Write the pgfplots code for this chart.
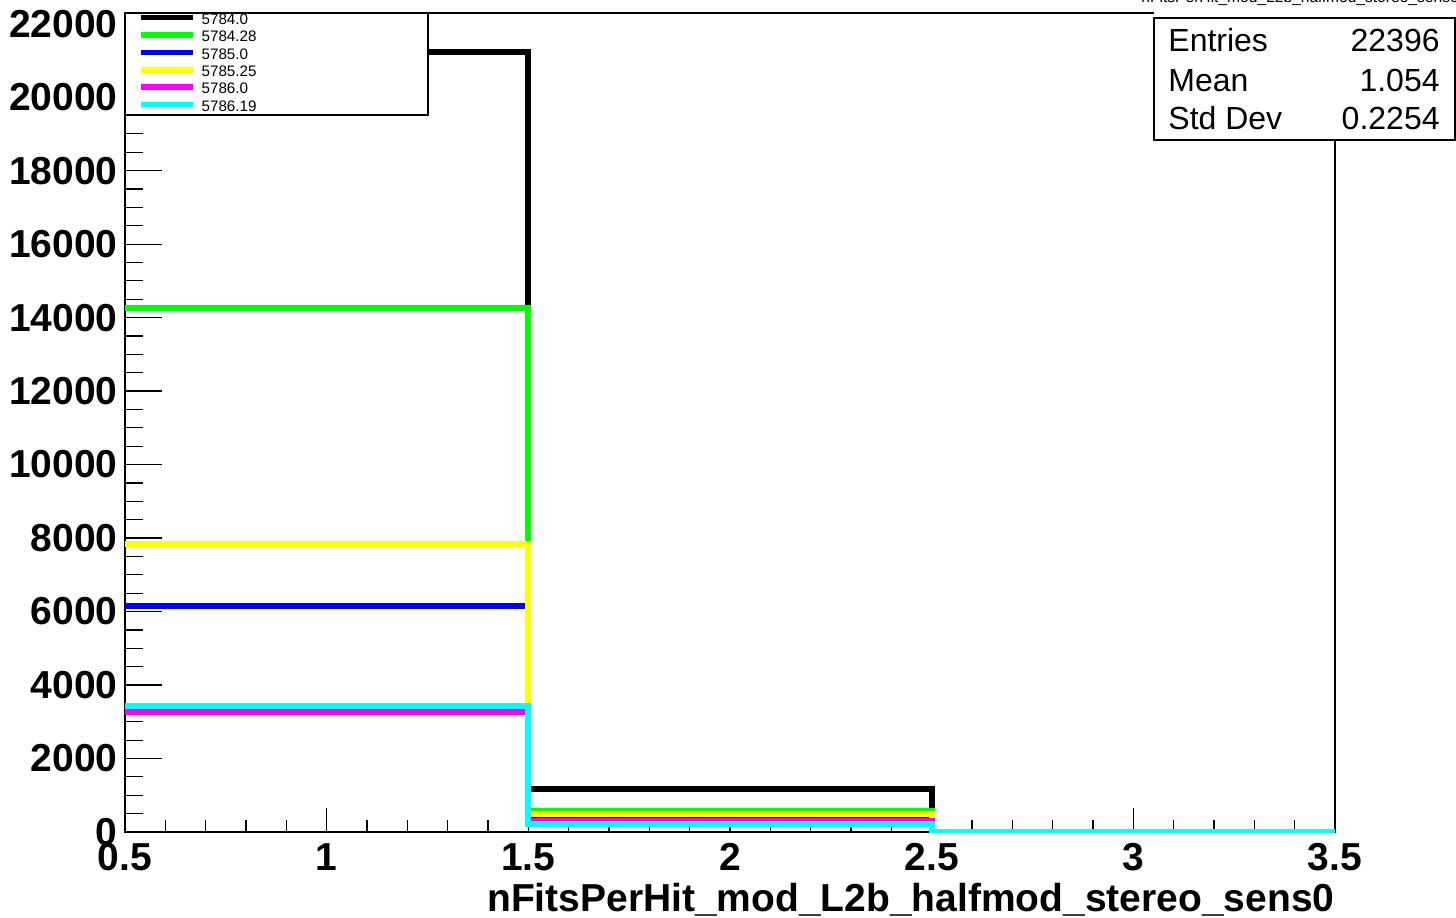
\documentclass[border=0pt]{standalone}
\usepackage{pgfplots}
\usepackage{pgfplotstable}
\pgfplotsset{compat=1.18}
\usepackage{fontspec}
\setmainfont{Liberation Sans}

\definecolor{rgreen}{RGB}{0,255,0}
\definecolor{rblue}{RGB}{0,0,255}
\definecolor{ryellow}{RGB}{255,255,0}
\definecolor{rmagenta}{RGB}{255,0,255}
\definecolor{rcyan}{RGB}{0,255,255}

\pgfplotstableread{
x     black  green  blue  yellow  magenta  cyan
0.5   21230  14270  6150  7840    3270     3430
1.5   1170   570    350   490     300      220
2.5   10     5      5     5       5        5
3.5   10     5      5     5       5        5
}\hist

\begin{document}
\begin{tikzpicture}
\useasboundingbox (0pt,0pt) rectangle (728pt,458.5pt);
\clip (0pt,0pt) rectangle (728pt,458.5pt);
% axis carrying the y ticks
\begin{axis}[
  at={(62.5pt,42.5pt)}, anchor=south west,
  scale only axis, width=605pt, height=409.5pt,
  xmin=0.5, xmax=3.5, ymin=0, ymax=22290,
  axis line style={line width=0.6pt},
  tick align=inside, ytick pos=left,
  xtick=\empty,
  ytick={0,2000,...,22000}, minor y tick num=3,
  major tick length=18.5pt, minor tick length=9pt,
  tick style={line width=0.6pt, black},
  scaled y ticks=false,
  /pgf/number format/assume math mode=true,
  /pgf/number format/1000 sep={},
  yticklabel style={anchor=east, inner sep=0pt, xshift=-3.5pt,
    font=\fontsize{19.5}{20}\selectfont\bfseries},
]
\end{axis}
% main axis with the histograms and x ticks
\begin{axis}[
  at={(62.5pt,42.5pt)}, anchor=south west,
  scale only axis, width=605pt, height=409.5pt,
  xmin=0.5, xmax=3.5, ymin=0, ymax=22290,
  axis line style={line width=0.6pt},
  tick align=inside, xtick pos=bottom,
  ytick=\empty,
  xtick={0.5,1,...,3.5}, minor x tick num=4,
  major tick length=12pt, minor tick length=6pt,
  tick style={line width=0.6pt, black},
  /pgf/number format/assume math mode=true,
  xticklabel style={anchor=base, inner sep=0pt, yshift=-19pt,
    font=\fontsize{19.5}{20}\selectfont\bfseries},
  xlabel={nFitsPerHit\_mod\_L2b\_halfmod\_stereo\_sens0},
  xlabel style={at={(rel axis cs:1,0)}, anchor=base east, inner sep=0pt,
    yshift=-39.5pt, font=\fontsize{19.5}{20}\selectfont\bfseries},
  legend style={at={(rel axis cs:0,1)}, anchor=north west, draw=none, fill=none,
    inner sep=0pt, outer sep=0pt, xshift=6.5pt, yshift=-0.2pt,
    font=\fontsize{7.6}{8.7}\selectfont, row sep=0pt, column sep=3pt,
    nodes={inner sep=0pt, text height=5.5pt, text depth=3.2pt}},
  legend cell align=left,
  legend image code/.code={\draw[#1, line width=2.8pt] (0pt,2.2pt) -- (26pt,2.2pt);},
  every axis plot/.append style={const plot, mark=none, line width=3pt},
]
\addplot[black] table[x=x, y=black] {\hist};
\addplot[rgreen] table[x=x, y=green] {\hist};
\addplot[rblue] table[x=x, y=blue] {\hist};
\addplot[ryellow] table[x=x, y=yellow] {\hist};
\addplot[rmagenta] table[x=x, y=magenta] {\hist};
\addplot[rcyan] table[x=x, y=cyan] {\hist};
\legend{5784.0,5784.28,5785.0,5785.25,5786.0,5786.19}
\filldraw[fill=white, draw=black, line width=0.6pt] (rel axis cs:0,1) rectangle (rel axis cs:0.2504,0.8755);
\end{axis}
% title and statistics box
\fill[white] (577pt,449.5pt) rectangle (728pt,470pt);
\node[anchor=base west, inner sep=0pt, font=\fontsize{7.8}{9}\selectfont] at (570.5pt,457pt) {nFitsPerHit\_mod\_L2b\_halfmod\_stereo\_sens0};
\filldraw[fill=white, draw=black, line width=0.6pt] (577pt,388.5pt) rectangle (727.5pt,449.5pt);
\node[anchor=base west, inner sep=0pt, font=\fontsize{16}{18}\selectfont] at (584pt,432.5pt) {Entries};
\node[anchor=base east, inner sep=0pt, font=\fontsize{16}{18}\selectfont] at (720pt,432.5pt) {22396};
\node[anchor=base west, inner sep=0pt, font=\fontsize{16}{18}\selectfont] at (584pt,412.5pt) {Mean};
\node[anchor=base east, inner sep=0pt, font=\fontsize{16}{18}\selectfont] at (720pt,412.5pt) {1.054};
\node[anchor=base west, inner sep=0pt, font=\fontsize{16}{18}\selectfont] at (584pt,393.5pt) {Std Dev};
\node[anchor=base east, inner sep=0pt, font=\fontsize{16}{18}\selectfont] at (720pt,393.5pt) {0.2254};
\end{tikzpicture}
\end{document}
